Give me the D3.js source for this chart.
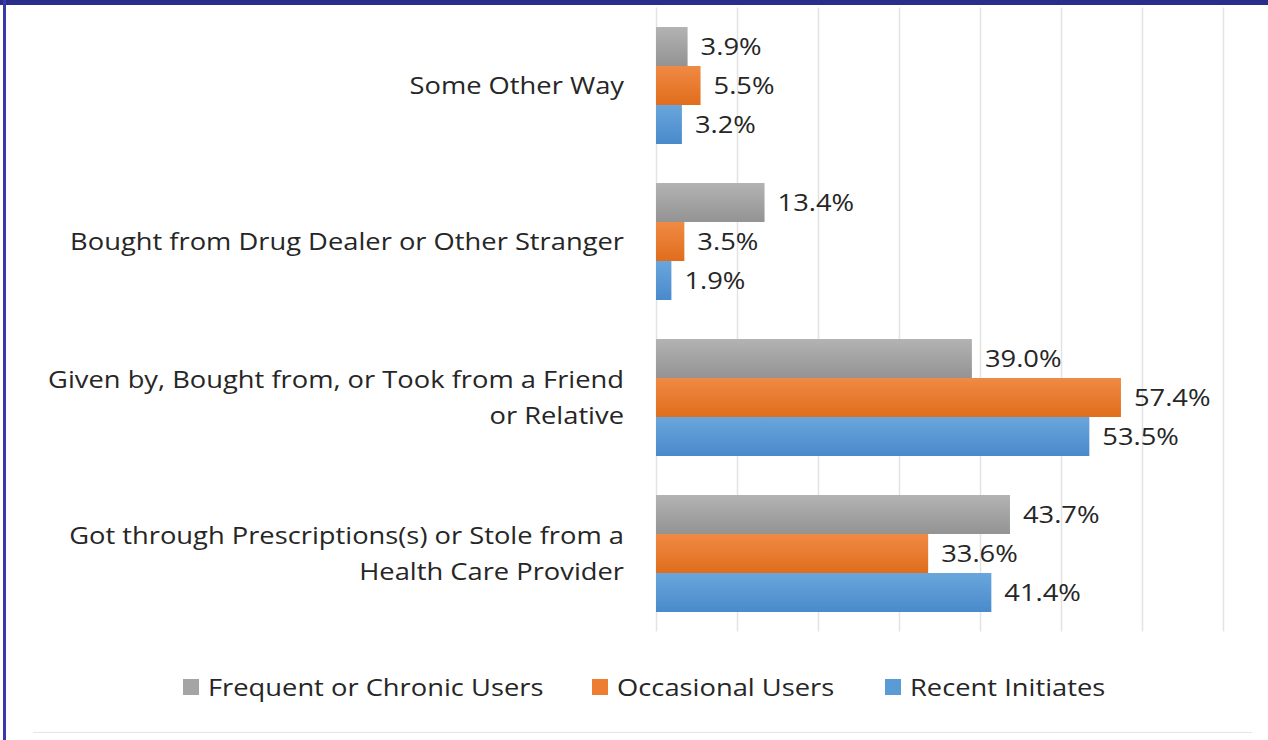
<!DOCTYPE html>
<html><head><meta charset="utf-8">
<script src="https://cdn.jsdelivr.net/npm/d3@7"></script>
<style>body{margin:0;background:#fff;} svg{display:block;}</style>
</head><body>
<svg id="c" width="1268" height="740"></svg>
<script>
const categories = [
  ["Some Other Way"],
  ["Bought from Drug Dealer or Other Stranger"],
  ["Given by, Bought from, or Took from a Friend", "or Relative"],
  ["Got through Prescriptions(s) or Stole from a", "Health Care Provider"]
];
const seriesNames = ["Frequent or Chronic Users", "Occasional Users", "Recent Initiates"];
const frequent = [3.9, 13.4, 39.0, 43.7];
const occasional = [5.5, 3.5, 57.4, 33.6];
const recent = [3.2, 1.9, 53.5, 41.4];
const xTicks = [0, 10, 20, 30, 40, 50, 60, 70];

const colors = ["#a5a5a5", "#ed7d31", "#5b9bd5"];
const colorsLight = ["#b3b3b3", "#f08a44", "#69a6dc"];
const colorsDark = ["#939393", "#e06d1c", "#4a8acb"];
const series = [frequent, occasional, recent];
const FONT = "'Open Sans', sans-serif";
const FS = 24.5;
const SX = 1.115;

const svg = d3.select("#c");
const defs = svg.append("defs");
colors.forEach((c, i) => {
  const g = defs.append("linearGradient").attr("id", "g" + i).attr("x1", 0).attr("y1", 0).attr("x2", 0).attr("y2", 1);
  g.append("stop").attr("offset", "0%").attr("stop-color", colorsLight[i]);
  g.append("stop").attr("offset", "100%").attr("stop-color", colorsDark[i]);
});

function label(px, py, str, anchor) {
  svg.append("g").attr("transform", `translate(${px},${py}) scale(${SX},1)`)
    .append("text").attr("dy", "0.36em").attr("text-anchor", anchor || "start")
    .attr("font-family", FONT).attr("font-size", FS).attr("fill", "#262626").text(str);
}

// frame
svg.append("rect").attr("x", 0).attr("y", 0).attr("width", 1268).attr("height", 5).attr("fill", "#2b2d8c");
svg.append("rect").attr("x", 3).attr("y", 0).attr("width", 3).attr("height", 740).attr("fill", "#3a3aa6");
svg.append("line").attr("x1", 33).attr("x2", 1252).attr("y1", 732.5).attr("y2", 732.5).attr("stroke", "#e6e6e6").attr("stroke-width", 1);

const x = d3.scaleLinear().domain([0, 70]).range([656, 1223]);
const y = d3.scaleBand().domain(d3.range(categories.length)).range([7.5, 631.5]).paddingInner(0.25).paddingOuter(0.125);
const ySub = d3.scaleBand().domain(d3.range(series.length)).range([0, y.bandwidth()]);

// gridlines
svg.append("g").attr("transform", "translate(0,631.5)")
  .call(d3.axisBottom(x).tickValues(xTicks).tickSize(-624).tickFormat(""))
  .call(g => g.select(".domain").remove())
  .call(g => g.selectAll(".tick line").attr("stroke", "#e3e3e3").attr("stroke-width", 1.5));

// bars
categories.forEach((cat, ci) => {
  series.forEach((s, si) => {
    const yy = y(ci) + ySub(si);
    svg.append("rect").attr("x", x(0)).attr("y", yy).attr("width", x(s[ci]) - x(0)).attr("height", ySub.bandwidth())
      .attr("fill", "url(#g" + si + ")");
    label(x(s[ci]) + 13, yy + ySub.bandwidth() / 2, s[ci].toFixed(1) + "%");
  });
  const cy = y(ci) + y.bandwidth() / 2;
  const n = cat.length;
  cat.forEach((line, li) => {
    label(624, cy + (li - (n - 1) / 2) * 36, line, "end");
  });
});

// legend
const legendX = [183, 592, 885];
seriesNames.forEach((nm, i) => {
  svg.append("rect").attr("x", legendX[i]).attr("y", 679).attr("width", 16).attr("height", 16).attr("fill", colors[i]);
  label(legendX[i] + 25, 687, nm);
});
</script>
</body></html>
